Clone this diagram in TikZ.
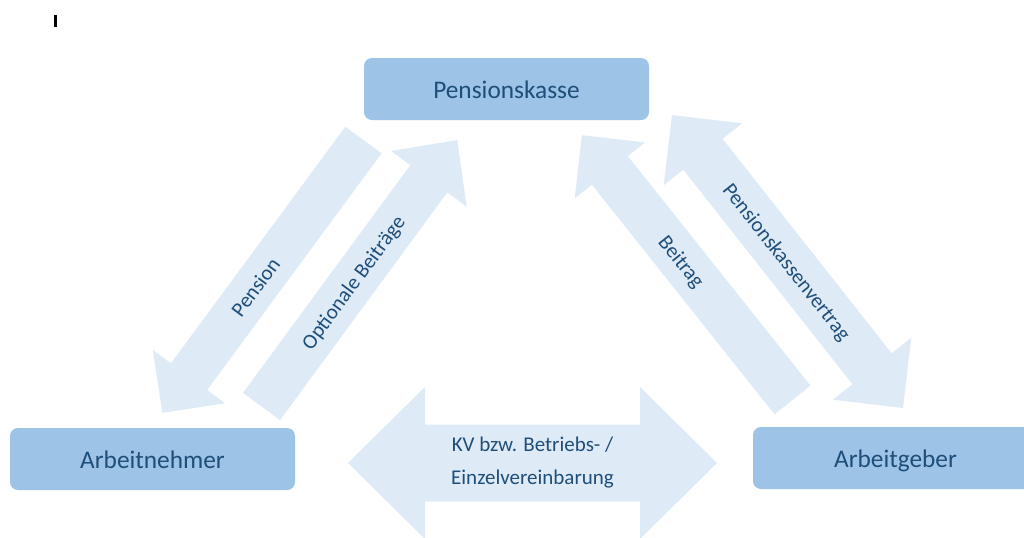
\documentclass[tikz,border=0pt]{standalone}
\usepackage{fontspec}
\setmainfont{Carlito}
\usepackage{tikz}
\usetikzlibrary{calc}

\definecolor{boxblue}{HTML}{9DC3E6}
\definecolor{arrowblue}{HTML}{DEEBF7}
\definecolor{textblue}{HTML}{1F4E79}

\begin{document}
\begin{tikzpicture}[
    x=0.75pt, y=-0.75pt,
    party/.style={rectangle, fill=boxblue, rounded corners=6pt, minimum width=213.75pt, minimum height=46.5pt, inner sep=0pt, text height=13.8pt, text depth=0pt, text=textblue, font=\fontsize{19}{23}\selectfont},
    flowtext/.style={inner sep=0pt, align=center, text=textblue, font=\fontsize{15.75}{24.75}\selectfont},
    flatline/.style={text height=11.4pt, text depth=0pt},
    pics/fatarrow/.style args={#1/#2/#3/#4}{code={
        \fill[arrowblue] (0,-#2) -- (#1-#4,-#2) -- (#1-#4,-#3) -- (#1,0) -- (#1-#4,#3) -- (#1-#4,#2) -- (0,#2) -- cycle;
    }},
    pics/fatdarrow/.style args={#1/#2/#3/#4}{code={
        \fill[arrowblue] (0,0) -- (#4,-#3) -- (#4,-#2) -- (#1-#4,-#2) -- (#1-#4,-#3) -- (#1,0) -- (#1-#4,#3) -- (#1-#4,#2) -- (#4,#2) -- (#4,#3) -- cycle;
    }}
]
\useasboundingbox (0,0) rectangle (1024,537);
\clip (0,0) rectangle (1024,537);

% Arrow ends
\coordinate (pen-tail) at (363.5,140);
\coordinate (pen-tip) at (162,413);
\coordinate (opt-tail) at (261.5,406.5);
\coordinate (opt-tip) at (457,140);
\coordinate (bei-tail) at (792.5,400);
\coordinate (bei-tip) at (582,135);
\coordinate (pkv-a) at (672,115);
\coordinate (pkv-b) at (903,408);
\coordinate (kv-a) at (348,463);
\coordinate (kv-b) at (717,463);

% Block arrows
\pic[rotate=233.6] at (pen-tail) {fatarrow=339/22.5/45/45};
\pic[rotate=53.7] at (opt-tail) {fatarrow=330.6/23/47/48};
\pic[rotate=128.5] at (bei-tail) {fatarrow=338.4/23/45/45};
\pic[rotate=-51.75] at (pkv-a) {fatdarrow=373.1/25/50/50};
\pic at (kv-a) {fatdarrow=369/38.5/76/77};

% Parties
\node[party] (kasse) at (506.5,89) {Pensionskasse};
\node[party] (nehmer) at (152.5,459) {Arbeitnehmer};
\node[party] (geber) at (895.5,458) {Arbeitgeber};

% Arrow texts
\node[flowtext, flatline, rotate=53.6] (pension) at ($(pen-tail)!0.538!(pen-tip)$) {Pension};
\node[flowtext, flatline, rotate=53.7] (optional) at ($(opt-tail)!0.466!(opt-tip)$) {Optionale Beiträge};
\node[flowtext, flatline, rotate=-51.5] (beitrag) at ($(bei-tail)!0.524!(bei-tip)$) {Beitrag};
\node[flowtext, flatline, rotate=-51.75] (vertrag) at ($(pkv-a)!0.5!(pkv-b)$) {Pensionskassenvertrag};
\node[flowtext] (kv) at ($(kv-a)!0.5!(kv-b)$) {KV bzw. Betriebs- /\\Einzelvereinbarung};

% Cursor mark
\node[fill=black, minimum width=2.25pt, minimum height=9pt, inner sep=0pt] (cursor) at (55.5,21) {};

\end{tikzpicture}
\end{document}
